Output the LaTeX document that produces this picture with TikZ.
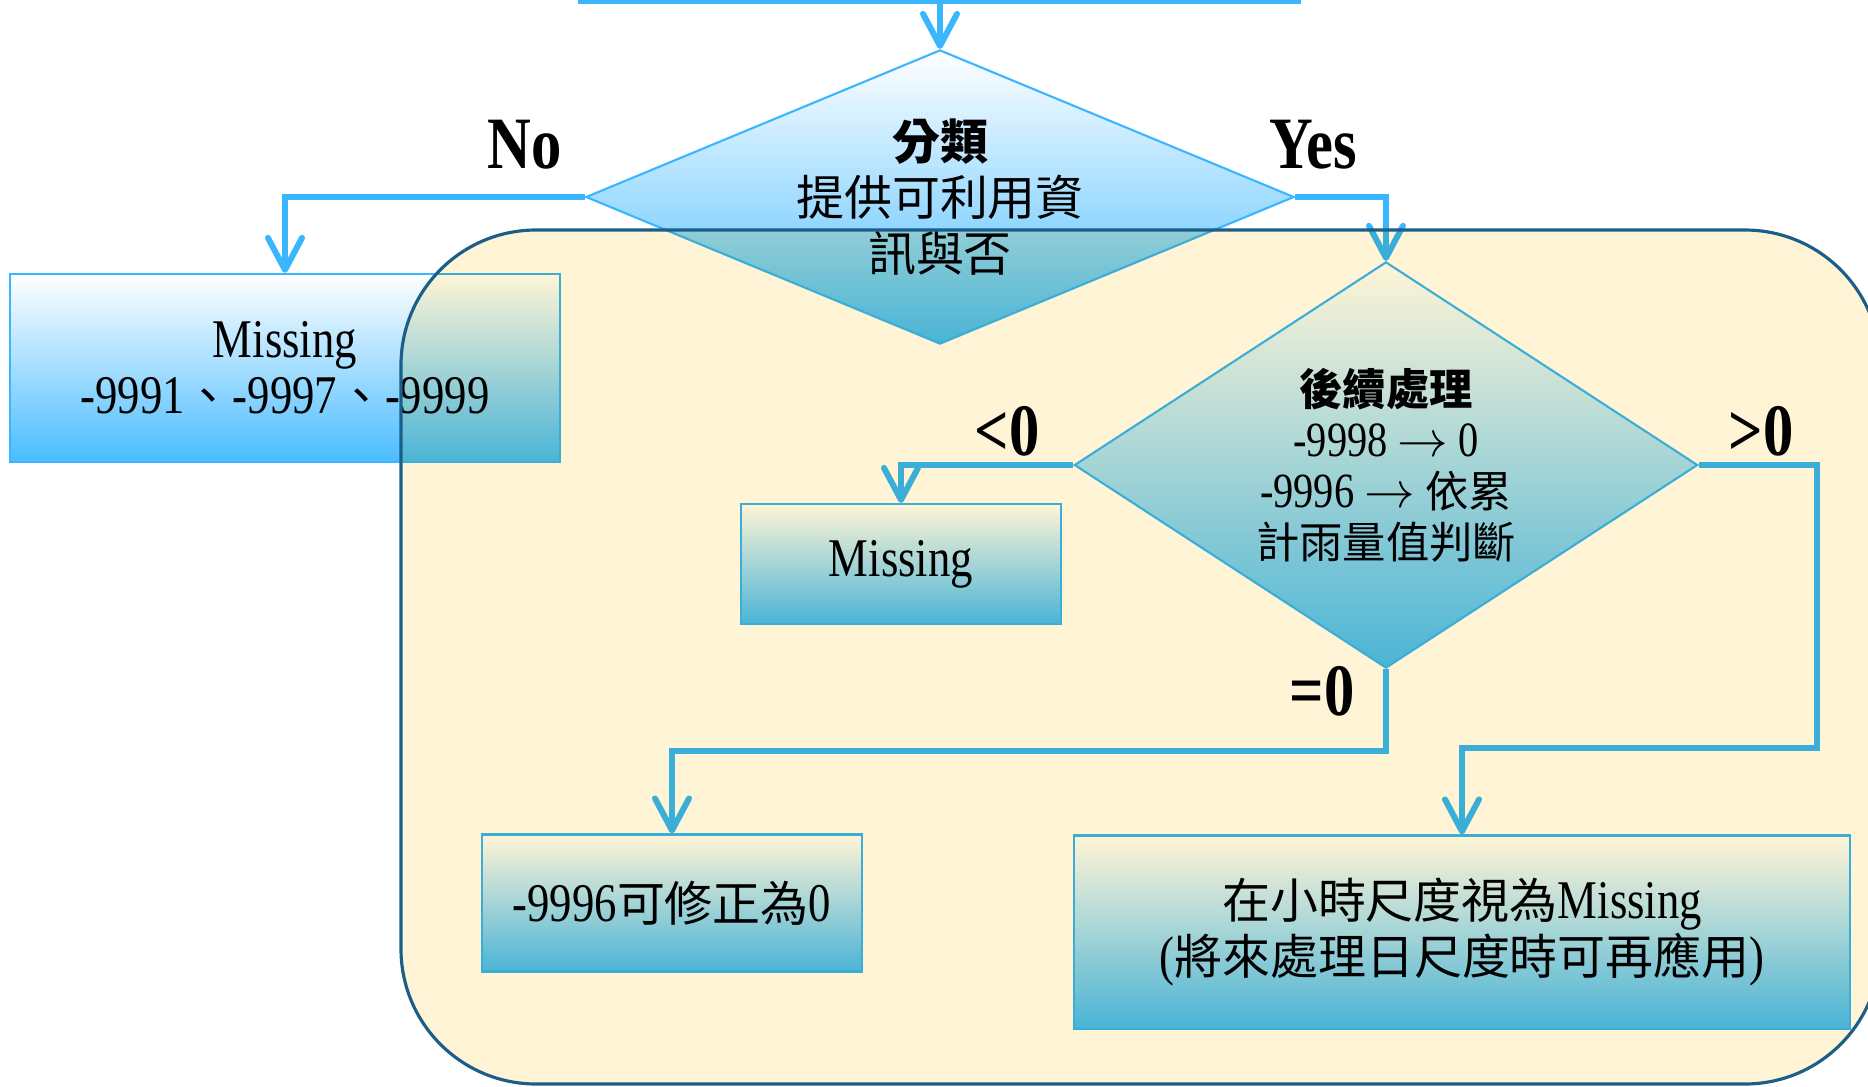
\documentclass[tikz,border=0pt]{standalone}
\usepackage{fontspec}
\setmainfont{Liberation Serif}[FakeStretch=0.82]
\newfontfamily\cjk{Noto Sans CJK TC}[Scale=0.88]
\newcommand{\zh}[1]{{\cjk #1}}
\usetikzlibrary{shapes.geometric,arrows.meta}
\definecolor{flowblue}{RGB}{58,182,255}
\definecolor{cream}{RGB}{255,245,214}
\definecolor{frameblue}{RGB}{27,94,138}

\begin{document}
\begin{tikzpicture}[x=0.01cm, y=-0.01cm,
    every node/.style={align=center, inner sep=0pt},
    box/.style={rectangle, draw=flowblue, line width=0.6pt, top color=white, bottom color=flowblue!92!white,
      font=\fontsize{15.5}{16}\selectfont},
    dia/.style={box, diamond},
    lbl/.style={font=\fontsize{21}{21}\selectfont\bfseries},
    flow/.style={draw=flowblue, line width=1.7pt, -{Straight Barb[length=3.2mm, width=3.4mm, round]}}
  ]
  \useasboundingbox (0,0) rectangle (1868,1087);
  \fill[flowblue] (578,-20) rectangle (1301,4);
  \coordinate (bar) at (940,4);

  \node[dia, aspect=2.41, minimum width=7.08cm, minimum height=2.94cm] (cls) at (940,197)
    {\zh{\bfseries 分類}\\\zh{提供可利用資}\\\zh{訊與否}};
  \node[box, minimum width=5.5cm, minimum height=1.88cm] (miss1) at (285,368)
    {Missing\\-9991\zh{、}-9997\zh{、}-9999};
  \node[dia, aspect=1.53, minimum width=6.23cm, minimum height=4.06cm, font=\fontsize{14}{14.5}\selectfont] (post) at (1386,465)
    {\zh{\bfseries 後續處理}\\-9998 $\rightarrow$ 0\\-9996 $\rightarrow$ \zh{依累}\\\zh{計雨量值判斷}};
  \node[box, minimum width=3.19cm, minimum height=1.2cm] (miss2) at (901,564) {Missing};
  \node[box, minimum width=3.79cm, minimum height=1.37cm] (fix) at (672,903) {-9996\zh{可修正為}0};
  \node[box, minimum width=7.75cm, minimum height=1.93cm] (hour) at (1462,932)
    {\zh{在小時尺度視為}Missing\\(\zh{將來處理日尺度時可再應用})};

  \node[lbl] (no) at (525,145) {No};
  \node[lbl] (yes) at (1313,145) {Yes};
  \node[lbl] (neg) at (1007,431) {<0};
  \node[lbl] (pos) at (1761,431) {>0};
  \node[lbl] (zero) at (1322,691) {=0};

  \draw[flow] (bar) -- (cls.north);
  \draw[flow] (cls.west) -| (miss1.north);
  \draw[flow] (cls.east) -| (post.north);
  \draw[flow] (post.west) -| (miss2.north);
  \draw[flow] (post.south) |- ([yshift=0.82cm]fix.north) -- (fix.north);
  \draw[flow] (post.east) -- ++(118,0) |- ([yshift=0.86cm]hour.north) -- (hour.north);

  \begin{scope}[blend mode=multiply]
    \fill[cream, rounded corners=1.35cm] (401,230) rectangle (1880,1084);
  \end{scope}
  \draw[frameblue, line width=0.9pt, rounded corners=1.35cm] (401,230) rectangle (1880,1084);
\end{tikzpicture}
\end{document}
